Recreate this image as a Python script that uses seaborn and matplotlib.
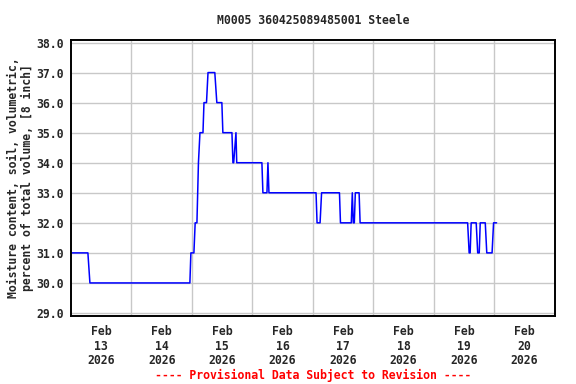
import numpy as np
import pandas as pd
import matplotlib
matplotlib.use("Agg")
import matplotlib.pyplot as plt
import matplotlib.dates as mdates
import seaborn as sns

# hours after 2026-02-13 00:00 and soil moisture values
hours = [0, 6.7, 7.5, 47.2, 47.6, 48.8, 49.3, 50.0, 50.3, 50.6, 51.2, 52.4, 52.8,
         53.8, 54.4, 57.1, 57.9, 59.9, 60.3, 63.9, 64.3, 64.6, 65.5, 65.8, 75.8,
         76.2, 77.8, 78.2, 78.6, 97.3, 97.7, 98.9, 99.5, 106.6, 107.0, 111.3,
         111.7, 112.1, 112.5, 112.9, 114.4, 114.8, 157.5, 158.1, 158.5, 158.9,
         160.9, 161.5, 162.1, 162.5, 164.5, 165.1, 167.2, 167.8, 169.0]
values = [31, 31, 30, 30, 31, 31, 32, 32, 33, 34, 35, 35, 36,
          36, 37, 37, 36, 36, 35, 35, 34, 34, 35, 34, 34,
          33, 33, 34, 33, 33, 32, 32, 33, 33, 32, 32,
          33, 32, 32, 33, 33, 32, 32, 31, 31, 32,
          32, 31, 31, 32, 32, 31, 31, 32, 32]
day_labels = ["Feb\n13\n2026", "Feb\n14\n2026", "Feb\n15\n2026", "Feb\n16\n2026",
              "Feb\n17\n2026", "Feb\n18\n2026", "Feb\n19\n2026", "Feb\n20\n2026"]
y_ticks = [29.0, 30.0, 31.0, 32.0, 33.0, 34.0, 35.0, 36.0, 37.0, 38.0]

title = "M0005 360425089485001 Steele"
ylabel = "Moisture content, soil, volumetric,\npercent of total volume, [8 inch]"
footer = "---- Provisional Data Subject to Revision ----"

start = pd.Timestamp("2026-02-13 00:00")
df = pd.DataFrame({"time": start + pd.to_timedelta(hours, unit="h"), "value": values})

sns.set_style("white")
plt.rcParams["font.family"] = ["DejaVu Sans Mono"]
plt.rcParams["font.weight"] = "bold"

fig = plt.figure(figsize=(5.76, 3.84), dpi=100)
ax = fig.add_axes([0.1233, 0.1779, 0.9627 - 0.1233, 0.8971 - 0.1779])

sns.lineplot(data=df, x="time", y="value", ax=ax, color="#0000ff", linewidth=1.1)

ax.set_xlim(start, start + pd.Timedelta(days=8))
ax.set_ylim(28.91, 38.10)

major = [start + pd.Timedelta(days=i) for i in range(1, 8)]
minor = [start + pd.Timedelta(days=i, hours=12) for i in range(8)]
ax.set_xticks(major)
ax.set_xticklabels([""] * len(major))
ax.set_xticks(minor, minor=True)
ax.set_xticklabels(day_labels, minor=True, fontsize=8.3, fontweight="bold", linespacing=1.15)
ax.set_yticks(y_ticks)
ax.set_yticklabels([f"{v:.1f}" for v in y_ticks], fontsize=8.3, fontweight="bold")
ax.tick_params(axis="both", which="both", length=0)
ax.tick_params(axis="x", which="minor", pad=7)
ax.tick_params(axis="y", pad=5)

ax.grid(True, which="major", color="#c8c8c8", linewidth=1.0)
ax.set_axisbelow(True)
for s in ax.spines.values():
    s.set_visible(True)
    s.set_color("black")
    s.set_linewidth(1.4)

ax.set_xlabel("")
ax.set_ylabel(ylabel, fontsize=8.3, fontweight="bold", linespacing=1.1, labelpad=1.5)

fig.text(0.543, 1 - 21 / 384, title, ha="center", va="center", fontsize=8.3, fontweight="bold")
fig.text(0.543, 1 - 375 / 384, footer, ha="center", va="center", fontsize=8.3,
         fontweight="bold", color="#ff0000")

fig.savefig("out.png", dpi=100)
